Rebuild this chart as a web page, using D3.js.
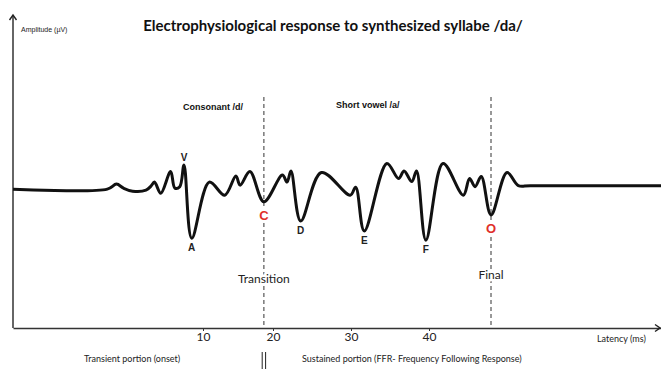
<!DOCTYPE html>
<html lang="en">
<head>
  <meta charset="UTF-8">
  <title>Electrophysiological response to synthesized syllabe /da/</title>
  <script src="https://d3js.org/d3.v7.min.js"></script>
  <style>
    body { margin: 0; background: #fff; }
    svg { display: block; }
    .title { font-family: Lato, "Open Sans", sans-serif; font-weight: bold; font-size: 15px; fill: #111; }
    .small { font-family: "Liberation Sans", Arial, sans-serif; font-size: 7px; fill: #222; }
    .phase { font-family: "Liberation Sans", Arial, sans-serif; font-weight: bold; font-size: 9px; fill: #111; }
    .wave-label { font-family: "Liberation Sans", Arial, sans-serif; font-weight: bold; font-size: 10px; fill: #222; }
    .key-label { font-family: "Liberation Sans", Arial, sans-serif; font-weight: bold; font-size: 13px; fill: #e0302a; }
    .note { font-family: Lato, sans-serif; font-size: 12px; fill: #222; }
    .foot { font-family: Lato, sans-serif; font-size: 9px; fill: #222; }
    .halo { stroke: #fff; stroke-width: 5px; paint-order: stroke; stroke-linejoin: round; }
  </style>
</head>
<body>
  <svg width="661" height="369"></svg>

  <script>
    // waveform, latency in ms and amplitude in µV (schematic)
    const latency = [-17, -3.6, -2.3, -1.3, 0.0, 1.9, 2.6, 3.1, 4.0, 5.4, 6.0, 6.7, 7.3, 8.4,
                     10.9, 13.1, 14.7, 15.3, 16.7, 18.7, 21.2, 21.8, 22.3, 23.55, 26.2, 29.9,
                     30.6, 31.7, 34.6, 36.1, 36.8, 37.8, 38.4, 39.6, 41.8, 44.4, 45.2, 45.9,
                     46.7, 47.95, 50.0, 51.45, 53, 70];
    const amplitude = [-0.05, -0.05, 0.05, -0.03, -0.09, -0.07, 0.01, 0.09, -0.13, 0.30, -0.03, 0.0, 0.43, -1.02,
                       0.09, -0.17, 0.21, 0.03, 0.30, -0.30, 0.23, 0.09, 0.31, -0.68, 0.28, -0.17,
                       -0.01, -0.88, 0.46, 0.16, 0.31, 0.10, 0.31, -1.06, 0.46, -0.17, 0.16, 0.0,
                       0.20, -0.56, 0.28, 0.02, 0.02, 0.02];

    // named peaks / troughs
    const peakNames = ["V", "A", "D", "E", "F"];
    const peakLatency = [7.3, 8.4, 23.55, 31.7, 39.6];
    const peakAmplitude = [0.43, -1.02, -0.68, -0.88, -1.06];
    const keyNames = ["C", "O"];
    const keyLatency = [18.7, 47.95];
    const keyAmplitude = [-0.30, -0.56];
    const markerNames = ["Transition", "Final"];

    const tickValues = [10, 20, 30, 40];

    const svg = d3.select("svg");

    // the printed axis is not evenly spaced, so the scale is piecewise
    const x = d3.scaleLinear()
      .domain([-17, 10, 20, 40, 70])
      .range([13, 203, 273, 429, 663]);
    const y = d3.scaleLinear()
      .domain([-2.8, 3.4])
      .range([328, 15]);

    // title + axis captions
    svg.append("text").attr("class", "title")
      .attr("x", 333).attr("y", 31).attr("text-anchor", "middle")
      .text("Electrophysiological response to synthesized syllabe /da/");
    svg.append("text").attr("class", "small")
      .attr("x", 21).attr("y", 32).text("Amplitude (µV)");
    svg.append("text").attr("class", "phase")
      .attr("x", 183).attr("y", 110).text("Consonant /d/");
    svg.append("text").attr("class", "phase")
      .attr("x", 336).attr("y", 108).text("Short vowel /a/");

    // dashed markers
    keyLatency.forEach((t, i) => {
      svg.append("line")
        .attr("x1", x(t)).attr("x2", x(t))
        .attr("y1", 97).attr("y2", y(-2.8))
        .attr("stroke", "#333").attr("stroke-width", 1)
        .attr("stroke-dasharray", "4,3");
    });

    // x axis
    const xAxis = svg.append("g")
      .attr("transform", `translate(0,${y(-2.8)})`)
      .call(d3.axisBottom(x).tickValues(tickValues).tickSize(3).tickSizeOuter(0));
    xAxis.select(".domain").attr("stroke", "#333").attr("stroke-width", 1.5);
    xAxis.selectAll(".tick line").attr("stroke", "#333");
    xAxis.selectAll(".tick text")
      .attr("font-family", "Lato, sans-serif").attr("font-size", 12)
      .attr("fill", "#222").attr("dy", "0.55em");

    // y axis
    svg.append("line")
      .attr("x1", x(-17)).attr("x2", x(-17))
      .attr("y1", y(-2.8)).attr("y2", y(3.4))
      .attr("stroke", "#333").attr("stroke-width", 1.5);

    // arrow heads
    svg.append("path")
      .attr("d", `M${x(-17) - 3.5},${y(3.4) + 5} L${x(-17)},${y(3.4)} L${x(-17) + 3.5},${y(3.4) + 5}`)
      .attr("fill", "none").attr("stroke", "#222").attr("stroke-width", 1.4);
    svg.append("path")
      .attr("d", `M655,${y(-2.8) - 3.5} L660,${y(-2.8)} L655,${y(-2.8) + 3.5}`)
      .attr("fill", "none").attr("stroke", "#222").attr("stroke-width", 1.4);

    svg.append("text").attr("class", "foot")
      .attr("x", 597).attr("y", 342).text("Latency (ms)");

    // waveform
    const pts = latency.map((t, i) => [t, amplitude[i]]);
    const line = d3.line()
      .x(d => x(d[0]))
      .y(d => y(d[1]))
      .curve(d3.curveCatmullRom.alpha(0.5));
    svg.append("path")
      .datum(pts)
      .attr("d", line)
      .attr("fill", "none")
      .attr("stroke", "#111")
      .attr("stroke-width", 3)
      .attr("stroke-linejoin", "round");

    // labels on the wave
    peakNames.forEach((n, i) => {
      const up = peakAmplitude[i] > 0;
      svg.append("text").attr("class", "wave-label")
        .attr("x", x(peakLatency[i]))
        .attr("y", y(peakAmplitude[i]) + (up ? -4 : 13))
        .attr("text-anchor", "middle")
        .text(n);
    });
    keyNames.forEach((n, i) => {
      svg.append("text").attr("class", "key-label halo")
        .attr("x", x(keyLatency[i]))
        .attr("y", y(keyAmplitude[i]) + 18)
        .attr("text-anchor", "middle")
        .text(n);
    });

    svg.append("text").attr("class", "note halo")
      .attr("x", x(keyLatency[0])).attr("y", 283).attr("text-anchor", "middle")
      .text(markerNames[0]);
    svg.append("text").attr("class", "note halo")
      .attr("x", x(keyLatency[1])).attr("y", 279).attr("text-anchor", "middle")
      .text(markerNames[1]);

    // bottom captions with the double bar divider
    svg.append("text").attr("class", "foot")
      .attr("x", 84).attr("y", 362).text("Transient portion (onset)");
    svg.append("text").attr("class", "foot")
      .attr("x", 302).attr("y", 362).text("Sustained portion (FFR- Frequency Following Response)");
    [-1.7, 1.7].forEach(dx => {
      svg.append("line")
        .attr("x1", x(keyLatency[0]) + dx).attr("x2", x(keyLatency[0]) + dx)
        .attr("y1", 352).attr("y2", 369)
        .attr("stroke", "#222").attr("stroke-width", 1);
    });
  </script>
</body>
</html>
